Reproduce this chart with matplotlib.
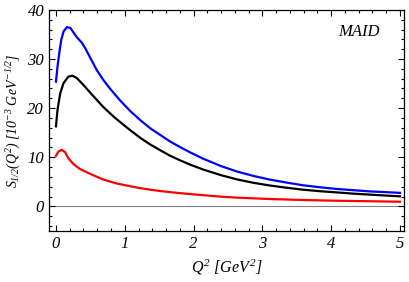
import numpy as np
import matplotlib
matplotlib.use("Agg")
import matplotlib.pyplot as plt
from matplotlib.ticker import MultipleLocator

plt.rcParams['font.family'] = ['Liberation Serif', 'DejaVu Serif']
plt.rcParams['mathtext.fontset'] = 'custom'
plt.rcParams['mathtext.rm'] = 'Liberation Serif:italic'
plt.rcParams['mathtext.it'] = 'Liberation Serif:italic'

# values
q2_blue = [0.0, 0.023, 0.048, 0.077, 0.11, 0.16, 0.21, 0.255, 0.305, 0.377, 0.425, 0.50,
           0.595, 0.69, 0.79, 0.93, 1.08, 1.23, 1.37, 1.52, 1.66, 1.80, 1.95, 2.14,
           2.4, 2.63, 2.87, 3.11, 3.35, 3.59, 3.83, 4.08, 4.32, 4.56, 4.8, 5.0]
s_blue = [25.4, 28.5, 31.2, 33.9, 35.6, 36.5, 36.3, 35.4, 34.4, 33.3, 32.2, 30.2,
          27.7, 25.7, 23.9, 21.6, 19.4, 17.5, 15.9, 14.5, 13.2, 12.1, 11.0, 9.7,
          8.2, 7.1, 6.2, 5.45, 4.85, 4.3, 3.9, 3.55, 3.3, 3.05, 2.9, 2.75]

q2_black = [0.0, 0.023, 0.062, 0.11, 0.18, 0.24, 0.305, 0.40, 0.546, 0.69, 0.836, 0.93,
            1.08, 1.23, 1.37, 1.52, 1.66, 1.80, 1.95, 2.14, 2.4, 2.63, 2.87, 3.11,
            3.35, 3.59, 3.83, 4.08, 4.32, 4.56, 4.8, 5.0]
s_black = [16.3, 19.7, 23.0, 25.1, 26.4, 26.6, 26.1, 24.7, 22.4, 20.2, 18.3, 17.2,
           15.5, 13.9, 12.6, 11.4, 10.3, 9.4, 8.5, 7.5, 6.35, 5.5, 4.8, 4.25,
           3.8, 3.4, 3.1, 2.85, 2.6, 2.4, 2.2, 2.05]

q2_red = [0.0, 0.02, 0.04, 0.087, 0.135, 0.18, 0.255, 0.35, 0.50, 0.69, 0.885, 1.08,
          1.21, 1.37, 1.52, 1.66, 1.80, 2.14, 2.4, 2.63, 3.11, 3.59, 4.08, 4.56, 5.0]
s_red = [10.3, 10.8, 11.2, 11.5, 11.0, 9.8, 8.6, 7.6, 6.6, 5.45, 4.65, 4.1,
         3.75, 3.4, 3.12, 2.9, 2.7, 2.28, 1.98, 1.78, 1.5, 1.3, 1.15, 1.05, 0.95]

fig = plt.figure(figsize=(4.09, 2.82), dpi=100)
ax = fig.add_axes([0.12, 0.181, 0.868, 0.784])

ax.axhline(0, color='#808080', lw=0.8, zorder=1)
ax.plot(q2_blue, s_blue, color='#0000ff', lw=1.6, solid_joinstyle='round')
ax.plot(q2_black, s_black, color='black', lw=1.6, solid_joinstyle='round')
ax.plot(q2_red, s_red, color='#ff0000', lw=1.6, solid_joinstyle='round')

ax.set_xlim(-0.1, 5.06)
ax.set_ylim(-5, 40)
ax.xaxis.set_major_locator(MultipleLocator(1))
ax.xaxis.set_minor_locator(MultipleLocator(0.2))
ax.yaxis.set_major_locator(MultipleLocator(10))
ax.yaxis.set_minor_locator(MultipleLocator(2))
ax.tick_params(which='both', direction='in', top=True, right=True, labelsize=12, width=0.8)
ax.tick_params(which='major', length=4.5)
ax.tick_params(which='minor', length=2.5)
for lbl in ax.get_xticklabels() + ax.get_yticklabels():
    lbl.set_fontstyle('italic')
for sp in ax.spines.values():
    sp.set_linewidth(0.9)

ax.set_xlabel(r'$Q^2\ [GeV^2]$', fontsize=11.5)
ax.set_ylabel(r'$S_{1/2}(Q^2)\ [10^{-3}\ GeV^{-1/2}]$', fontsize=10, labelpad=3)
ax.text(0.93, 0.9, 'MAID', transform=ax.transAxes, ha='right', va='center',
        fontsize=12, fontstyle='italic')

fig.savefig('out.png', dpi=100)
